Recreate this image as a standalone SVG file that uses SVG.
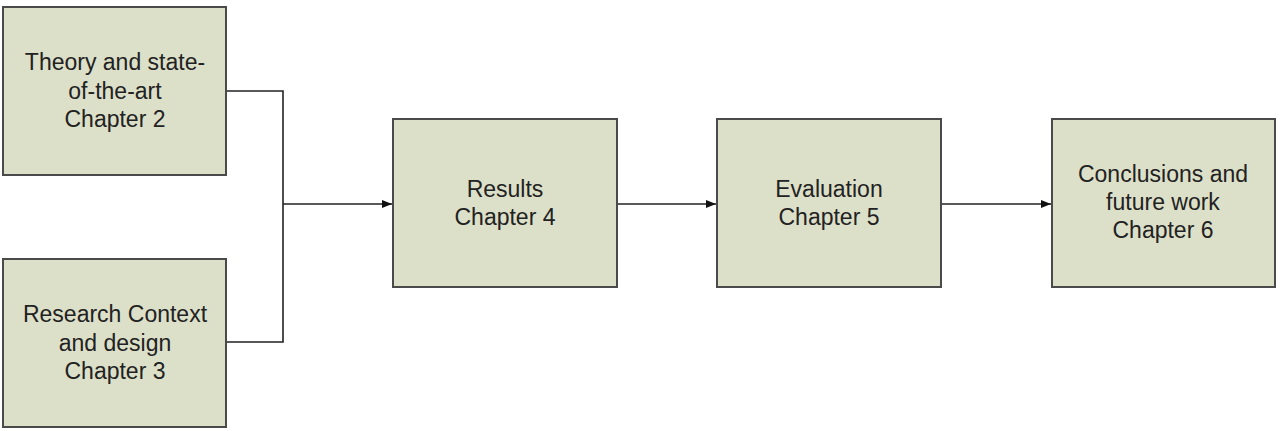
<svg xmlns="http://www.w3.org/2000/svg" width="1288" height="431" viewBox="0 0 1288 431">
<style>
.box{fill:#dde0c9;stroke:#4a4a4a;stroke-width:2}
.lbl{font-family:"Liberation Sans",Arial,sans-serif;font-size:23px;fill:#222;text-anchor:middle}
.con{fill:none;stroke:#222;stroke-width:1.6}
</style>
<defs>
<marker id="arr" viewBox="0 0 10 10" refX="10" refY="5" markerWidth="10" markerHeight="10" markerUnits="userSpaceOnUse" orient="auto">
<path d="M0,1 L10,5 L0,9 Z" fill="#111"/>
</marker>
</defs>
<rect width="1288" height="431" fill="#fff"/>
<g id="connectors">
<path class="con" d="M226,91 H283 V342 H226"/>
<path class="con" d="M283,204 H392" marker-end="url(#arr)"/>
<path class="con" d="M617,204 H716" marker-end="url(#arr)"/>
<path class="con" d="M941,204 H1051" marker-end="url(#arr)"/>
</g>
<g id="n1">
<rect class="box" x="3" y="7" width="223" height="168"/>
<text class="lbl" x="115" y="70">Theory and state-</text>
<text class="lbl" x="115" y="99">of-the-art</text>
<text class="lbl" x="115" y="127">Chapter 2</text>
</g>
<g id="n2">
<rect class="box" x="3" y="259" width="223" height="168"/>
<text class="lbl" x="115" y="322">Research Context</text>
<text class="lbl" x="115" y="351">and design</text>
<text class="lbl" x="115" y="379">Chapter 3</text>
</g>
<g id="n3">
<rect class="box" x="393" y="119" width="224" height="168"/>
<text class="lbl" x="505" y="197">Results</text>
<text class="lbl" x="505" y="225">Chapter 4</text>
</g>
<g id="n4">
<rect class="box" x="717" y="119" width="224" height="168"/>
<text class="lbl" x="829" y="197">Evaluation</text>
<text class="lbl" x="829" y="225">Chapter 5</text>
</g>
<g id="n5">
<rect class="box" x="1052" y="119" width="223" height="168"/>
<text class="lbl" x="1163" y="182">Conclusions and</text>
<text class="lbl" x="1163" y="210">future work</text>
<text class="lbl" x="1163" y="238">Chapter 6</text>
</g>
</svg>
